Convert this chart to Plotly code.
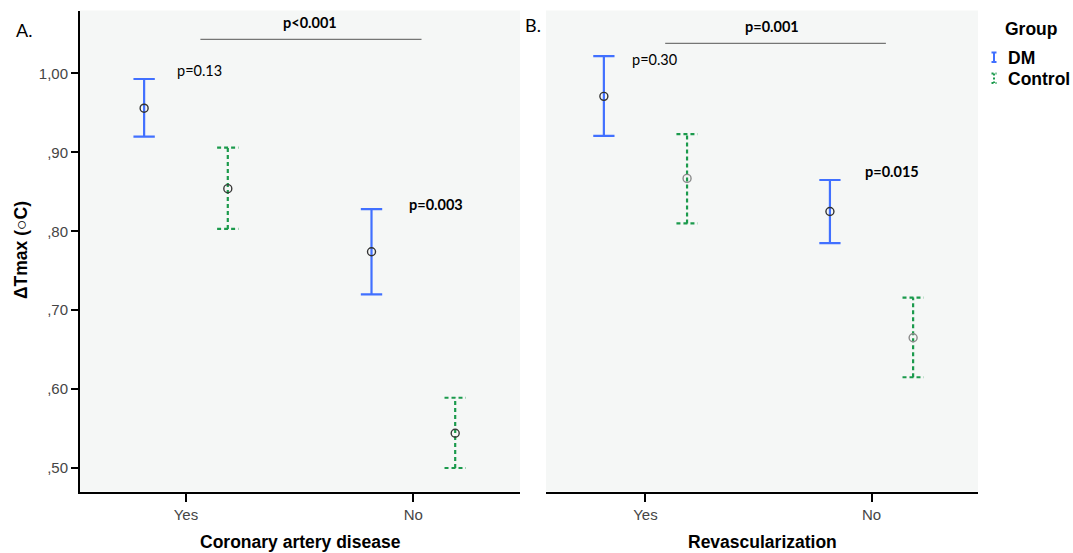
import plotly.graph_objects as go

# ---------------- data ----------------
categories = ["Yes", "No"]
y_tickvals = [0.5, 0.6, 0.7, 0.8, 0.9, 1.0]
y_ticktext = [",50", ",60", ",70", ",80", ",90", "1,00"]

# Panel A: Coronary artery disease
cad_dm_mean = [0.956, 0.774]
cad_dm_low = [0.920, 0.720]
cad_dm_high = [0.993, 0.828]
cad_ctrl_mean = [0.854, 0.544]
cad_ctrl_low = [0.803, 0.500]
cad_ctrl_high = [0.906, 0.589]

# Panel B: Revascularization
rev_dm_mean = [0.971, 0.825]
rev_dm_low = [0.921, 0.785]
rev_dm_high = [1.022, 0.865]
rev_ctrl_mean = [0.867, 0.665]
rev_ctrl_low = [0.810, 0.615]
rev_ctrl_high = [0.923, 0.716]

groups = ["DM", "Control"]

# ---------------- style ----------------
W, H = 1073, 553
BLUE = "#4170ff"
GREEN = "#1b9a4c"
BG = "#f5f7f6"
OFFSET = 0.184
CAP = 0.047


def px(x, y):
    return x / W, 1 - y / H


def errorbar_trace(xcats, means, lows, highs, offset, color, dash, xa, ya):
    xs, ys = [], []
    for i, _ in enumerate(xcats):
        xc = i + offset
        xs += [xc, xc, None, xc - CAP, xc + CAP, None, xc - CAP, xc + CAP, None]
        ys += [lows[i], highs[i], None, highs[i], highs[i], None, lows[i], lows[i], None]
    return go.Scatter(x=xs, y=ys, mode="lines", xaxis=xa, yaxis=ya,
                      line=dict(color=color, width=2.2, dash=dash),
                      showlegend=False, hoverinfo="skip")


def mean_trace(xcats, means, offset, color, xa, ya):
    return go.Scatter(x=[i + offset for i in range(len(xcats))], y=means,
                      mode="markers", xaxis=xa, yaxis=ya,
                      marker=dict(symbol="circle-open", size=8, color=color,
                                  line=dict(width=1.4)),
                      showlegend=False)


fig = go.Figure()
panels = [
    ("x", "y", cad_dm_mean, cad_dm_low, cad_dm_high, cad_ctrl_mean, cad_ctrl_low, cad_ctrl_high, "#3a3a3a"),
    ("x2", "y2", rev_dm_mean, rev_dm_low, rev_dm_high, rev_ctrl_mean, rev_ctrl_low, rev_ctrl_high, "#8a8a8a"),
]
for xa, ya, dm_m, dm_l, dm_h, c_m, c_l, c_h, ctrl_mk in panels:
    fig.add_trace(errorbar_trace(categories, dm_m, dm_l, dm_h, -OFFSET, BLUE, "solid", xa, ya))
    fig.add_trace(errorbar_trace(categories, c_m, c_l, c_h, OFFSET, GREEN, "4px,3px", xa, ya))
    fig.add_trace(mean_trace(categories, dm_m, -OFFSET, "#333333", xa, ya))
    fig.add_trace(mean_trace(categories, c_m, OFFSET, ctrl_mk, xa, ya))

tickfont = dict(family="Liberation Sans, Arial", size=15, color="#454545")
ydom = [1 - 491.5 / H, 1 - 10.5 / H]
yrange = [0.4702, 1.0798]

common_x = dict(tickmode="array", tickvals=[0, 1], ticktext=categories,
                showline=True, linecolor="black", linewidth=2, mirror=False,
                ticks="outside", ticklen=8, tickwidth=2, tickcolor="black",
                showgrid=False, zeroline=False, tickfont=tickfont)

fig.update_layout(
    width=W, height=H,
    margin=dict(l=0, r=0, t=0, b=0),
    paper_bgcolor="white",
    plot_bgcolor=BG,
    showlegend=False,
    xaxis=dict(domain=[80 / W, 520 / W], range=[-0.466, 1.469], anchor="y", **common_x),
    xaxis2=dict(domain=[546 / W, 978 / W], range=[-0.44, 1.471], anchor="y2", **common_x),
    yaxis=dict(domain=ydom, range=yrange, anchor="x",
               tickmode="array", tickvals=y_tickvals, ticktext=y_ticktext,
               showline=True, linecolor="black", linewidth=2,
               ticks="outside", ticklen=7, tickwidth=1.5, tickcolor="black",
               showgrid=False, zeroline=False, tickfont=tickfont),
    yaxis2=dict(domain=ydom, range=yrange, anchor="x2", matches="y",
                showline=False, showticklabels=False, ticks="",
                showgrid=False, zeroline=False),
)

ann = []
title_font = dict(family="Liberation Sans, Arial", size=17.5, color="black")
bold = lambda s: "<b>" + s + "</b>"


def add_text(x, y, text, font, angle=0, xanchor="center"):
    xp, yp = px(x, y)
    ann.append(dict(x=xp, y=yp, xref="paper", yref="paper", text=text,
                    showarrow=False, font=font, textangle=angle,
                    xanchor=xanchor, yanchor="middle"))


# axis titles
add_text(300, 541.7, bold("Coronary artery disease"), title_font)
add_text(762, 541.7, bold("Revascularization"), title_font)
add_text(21, 250, bold("ΔTmax (○C)"), title_font, angle=-90)

# panel labels
plab = dict(family="Lato, Open Sans", size=18, color="black")
add_text(24, 30, "A.", plab)
add_text(533, 25, "B.", plab)

# p-values
pf = dict(family="Lato, Open Sans", size=14.5, color="black")
add_text(310, 22.7, bold("p<0.001"), pf)
add_text(199, 70.7, "p=0.13", pf)
add_text(436, 204.7, bold("p=0.003"), pf)
add_text(772, 26.7, bold("p=0.001"), pf)
add_text(654.5, 59, "p=0.30", pf)
add_text(892, 171.3, bold("p=0.015"), pf)

# legend
lf = dict(family="Liberation Sans, Arial", size=17.5, color="black")
add_text(1003, 29, bold("Group"), lf, xanchor="left")
add_text(1006, 57.7, bold(groups[0]), lf, xanchor="left")
add_text(1006, 79, bold(groups[1]), lf, xanchor="left")

fig.update_layout(annotations=ann)

shapes = []


def seg(x0, y0, x1, y1, color, width, dash="solid"):
    a0, b0 = px(x0, y0)
    a1, b1 = px(x1, y1)
    shapes.append(dict(type="line", xref="paper", yref="paper", x0=a0, y0=b0, x1=a1, y1=b1,
                       line=dict(color=color, width=width, dash=dash)))


# significance lines
seg(200.4, 39.3, 421.5, 39.3, "#555555", 1)
seg(665.2, 43.3, 885.9, 43.3, "#555555", 1)

# legend glyphs
seg(994, 52.5, 994, 62, BLUE, 2)
seg(991.5, 52.5, 996.5, 52.5, BLUE, 2)
seg(991.5, 62, 996.5, 62, BLUE, 2)
seg(994, 73.5, 994, 83, GREEN, 2, "2px,2px")
seg(991.5, 73.5, 996.5, 73.5, GREEN, 2, "2px,2px")
seg(991.5, 83, 996.5, 83, GREEN, 2, "2px,2px")

fig.update_layout(shapes=shapes)

fig.write_html("out.html")
